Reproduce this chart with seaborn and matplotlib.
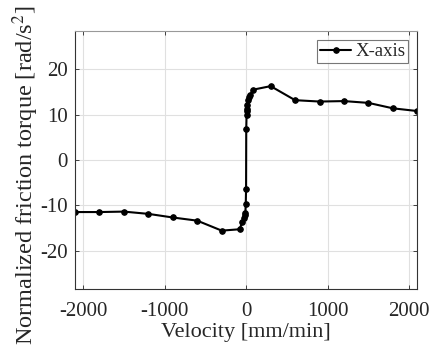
import matplotlib
matplotlib.use("Agg")
import matplotlib.pyplot as plt
import seaborn as sns
import pandas as pd

# velocity [mm/min] and normalized friction torque [rad/s^2]
velocity = [-2100, -1800, -1500, -1200, -900, -600, -300, -80, -50, -30, -20, -10, -5, -1,
            1, 5, 8, 10, 15, 20, 30, 50, 80, 300, 600, 900, 1200, 1500, 1800, 2100]
torque = [-11.5, -11.5, -11.4, -11.9, -12.7, -13.4, -15.6, -15.3, -13.8, -12.9, -12.2, -11.6, -9.8, -6.3,
          6.8, 10.0, 10.8, 11.3, 12.2, 13.3, 13.8, 14.3, 15.5, 16.3, 13.2, 12.9, 13.0, 12.6, 11.4, 10.8]
xticks = [-2000, -1000, 0, 1000, 2000]
yticks = [-20, -10, 0, 10, 20]

df = pd.DataFrame({"Velocity": velocity, "Torque": torque, "axis": "X-axis"})

sns.set_style("ticks")
plt.rcParams['font.family'] = ['Liberation Serif', 'DejaVu Serif']
plt.rcParams['mathtext.fontset'] = 'stix'
plt.rcParams['axes.unicode_minus'] = False

fig = plt.figure(figsize=(4.33, 3.47), dpi=100)
ax = fig.add_axes([0.173, 0.167, 0.791, 0.744])

sns.lineplot(data=df, x="Velocity", y="Torque", hue="axis", palette=["black"], sort=False,
             marker="o", markersize=4, linewidth=1.5, markeredgecolor="black", ax=ax)

ax.set_xlim(-2100, 2100)
ax.set_ylim(-28.5, 28.5)
ax.set_xticks(xticks)
ax.set_yticks(yticks)
ax.grid(True, color="#e0e0e0", linewidth=0.8)
ax.tick_params(direction="in", top=True, right=True, labelsize=15, length=3, width=0.6, pad=5)
ax.tick_params(axis="x", pad=9)
for s in ax.spines.values():
    s.set_linewidth(0.8)
    s.set_color("#333333")
ax.spines["top"].set_color("#999999")

ax.set_xlabel("Velocity [mm/min]", fontsize=16, labelpad=2)
ax.set_ylabel(r"Normalized friction torque [rad/s$^2$]", fontsize=17.5)
ax.yaxis.set_label_coords(-0.1, 0.44)

leg = ax.legend(loc="upper right", fontsize=13.5, frameon=True, fancybox=False,
                borderpad=0.15, handlelength=1.7, handletextpad=0.2, borderaxespad=0.5)
leg.get_frame().set_edgecolor("#555555")
leg.get_frame().set_linewidth(0.8)

fig.savefig("out.png", dpi=100)
